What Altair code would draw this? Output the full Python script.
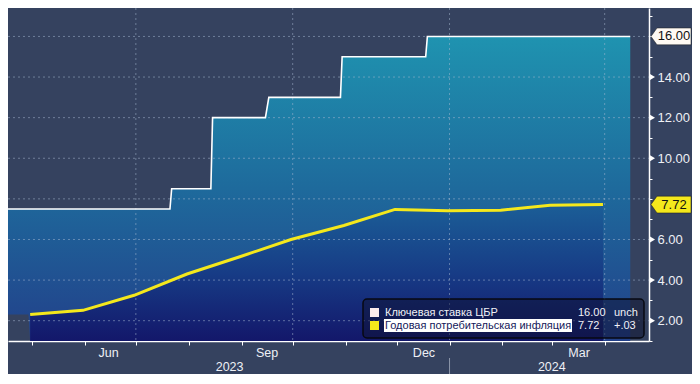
import altair as alt
import pandas as pd

# ---------------- data ----------------
rate_dates = ["2023-04-17", "2023-04-29", "2023-04-30", "2023-07-21", "2023-07-22",
              "2023-08-14", "2023-08-15", "2023-09-15", "2023-09-17", "2023-10-29",
              "2023-10-30", "2023-12-18", "2023-12-19", "2024-04-16"]
rate_values = [7.5, 7.5, 7.5, 7.5, 8.5, 8.5, 12.0, 12.0, 13.0, 13.0, 15.0, 15.0, 16.0, 16.0]

infl_dates = ["2023-04-30", "2023-05-31", "2023-06-30", "2023-07-31", "2023-08-31",
              "2023-09-30", "2023-10-31", "2023-11-30", "2023-12-31", "2024-01-31",
              "2024-02-29", "2024-03-31"]
infl_values = [2.31, 2.51, 3.25, 4.30, 5.15, 6.00, 6.69, 7.48, 7.42, 7.44, 7.69, 7.72]

month_ticks = ["2023-05-01", "2023-06-01", "2023-07-01", "2023-08-01", "2023-09-01",
               "2023-10-01", "2023-11-01", "2023-12-01", "2024-01-01", "2024-02-01",
               "2024-03-01", "2024-04-01"]
month_labels = ["Jun", "Sep", "Dec", "Mar"]
month_label_dates = ["2023-06-15", "2023-09-16", "2023-12-17", "2024-03-17"]
year_labels = ["2023", "2024"]
year_label_dates = ["2023-08-25", "2024-03-01"]
year_break = ["2024-01-01"]
quarter_lines = ["2023-07-01", "2023-10-01", "2024-01-01", "2024-04-01"]

grid_values = [2, 4, 6, 8, 10, 12, 14, 16]
tick_values = list(range(1, 18))
label_values = [2, 4, 6, 10, 12, 14]

legend_names = ["Ключевая ставка ЦБР", "Годовая потребительская инфляция"]
legend_last = ["16.00", "7.72"]
legend_change = ["unch", "+.03"]
legend_colors = ["#fcecec", "#f4e81c"]

callout_values = [16.00, 7.72]
callout_text = ["16.00", "7.72"]
callout_colors = ["#fffaf4", "#f4e81c"]

# ---------------- styling ----------------
W, H = 641, 333
BG = "#35425f"
FONT = "Liberation Sans"
Y_MIN, Y_MAX = 1.0, 17.4

x_scale = alt.Scale(domain=[alt.DateTime(year=2023, month=4, date=17),
                            alt.DateTime(year=2024, month=4, date=27)])
y_scale = alt.Scale(domain=[Y_MIN, Y_MAX], nice=False, zero=False)

def to_dt(s):
    y, m, d = (int(v) for v in s.split("-"))
    return alt.DateTime(year=y, month=m, date=d)

x_axis = alt.Axis(values=[to_dt(d) for d in month_ticks], labels=False, title=None,
                  grid=False, tickColor="#ffffff", tickSize=4, tickWidth=1,
                  domainColor="#ffffff", domainWidth=1.5)
y_axis = alt.Axis(orient="right", values=tick_values, title=None, grid=False,
                  labelExpr="indexof(%s, datum.value) >= 0 ? format(datum.value, '.2f') : ''" % str(label_values),
                  labelOverlap=False, labelFont=FONT, labelFontSize=13, labelColor="#eef0f5",
                  labelPadding=5, tickSize=3, tickColor="#ffffff", domainColor="#ffffff",
                  domainWidth=1.5, labelBaseline="middle")

def X(field):
    return alt.X(field, type="temporal", scale=x_scale, axis=x_axis)

def Y(field):
    return alt.Y(field, type="quantitative", scale=y_scale, axis=y_axis)

rate_df = pd.DataFrame({"date": pd.to_datetime(rate_dates), "rate": rate_values})
rate_df["base"] = [infl_values[0] if d < pd.Timestamp(infl_dates[0]) else Y_MIN for d in rate_df["date"]]
infl_df = pd.DataFrame({"date": pd.to_datetime(infl_dates), "v": infl_values})
infl_df["base"] = Y_MIN

rate_grad = alt.Gradient(gradient="linear", x1=0, x2=0, y1=0, y2=1,
                         stops=[alt.GradientStop(color="#1f93b0", offset=0),
                                alt.GradientStop(color="#1e6a9c", offset=0.5),
                                alt.GradientStop(color="#22408a", offset=1)])
infl_grad = alt.Gradient(gradient="linear", x1=0, x2=0, y1=0, y2=1,
                         stops=[alt.GradientStop(color="#1b5e97", offset=0),
                                alt.GradientStop(color="#173c86", offset=0.5),
                                alt.GradientStop(color="#13176a", offset=1)])

rate_area = alt.Chart(rate_df).mark_area(color=rate_grad, opacity=1).encode(
    x=X("date"), y=Y("rate"), y2="base:Q")
infl_area = alt.Chart(infl_df).mark_area(color=infl_grad, opacity=1).encode(
    x=X("date"), y=Y("v"), y2="base:Q")

hgrid = alt.Chart(pd.DataFrame({"g": grid_values})).mark_rule(
    stroke="#a9bbd4", strokeOpacity=0.5, strokeDash=[2, 3], strokeWidth=1).encode(
    y=Y("g"), x=alt.value(0), x2=alt.value(W))
vgrid = alt.Chart(pd.DataFrame({"d": pd.to_datetime(quarter_lines)})).mark_rule(
    stroke="#a9bbd4", strokeOpacity=0.5, strokeDash=[2, 3], strokeWidth=1).encode(
    x=X("d"), y=alt.value(0), y2=alt.value(H))

rate_line = alt.Chart(rate_df).mark_line(color="#ffffff", strokeWidth=1.6).encode(
    x=X("date"), y=Y("rate"))
infl_line = alt.Chart(infl_df).mark_line(color="#f4e81c", strokeWidth=3).encode(
    x=X("date"), y=Y("v"))

# ---------- legend box ----------
LX0, LX1, LY0, LY1 = 355, 636, 291, 330
one = pd.DataFrame({"k": [0]})
legend_box = alt.Chart(one).mark_rect(fill="#0d1230", fillOpacity=0.5, stroke="#070912",
                                      strokeWidth=1.5, cornerRadius=4).encode(
    x=alt.value(LX0), x2=alt.value(LX1), y=alt.value(LY0), y2=alt.value(LY1))
legend_layers = [legend_box]
row_y = [LY0 + 14, LY0 + 27]
for i in range(2):
    legend_layers.append(alt.Chart(one).mark_rect(fill=legend_colors[i]).encode(
        x=alt.value(LX0 + 7), x2=alt.value(LX0 + 16),
        y=alt.value(row_y[i] - 5), y2=alt.value(row_y[i] + 4)))
    if i == 1:
        legend_layers.append(alt.Chart(one).mark_rect(fill="#ffffff").encode(
            x=alt.value(LX0 + 21), x2=alt.value(LX0 + 209),
            y=alt.value(row_y[i] - 7), y2=alt.value(row_y[i] + 6)))
    txt_color = "#f0f1f6" if i == 0 else "#14185a"
    legend_layers.append(alt.Chart(pd.DataFrame({"t": [legend_names[i]]})).mark_text(
        align="left", baseline="middle", font=FONT, fontSize=11, color=txt_color).encode(
        text="t:N", x=alt.value(LX0 + 22), y=alt.value(row_y[i])))
    legend_layers.append(alt.Chart(pd.DataFrame({"t": [legend_last[i]]})).mark_text(
        align="left", baseline="middle", font=FONT, fontSize=11, color="#f0f1f6").encode(
        text="t:N", x=alt.value(LX0 + 215), y=alt.value(row_y[i])))
    legend_layers.append(alt.Chart(pd.DataFrame({"t": [legend_change[i]]})).mark_text(
        align="left", baseline="middle", font=FONT, fontSize=11, color="#f0f1f6").encode(
        text="t:N", x=alt.value(LX0 + 251), y=alt.value(row_y[i])))

# ---------- right axis decorations ----------
arrows = alt.Chart(pd.DataFrame({"v": label_values})).mark_point(
    shape="triangle-right", filled=True, size=34, color="#ffffff", opacity=1).encode(
    x=alt.value(W + 3.5), y=Y("v"))

callout_layers = []
CALLOUT_PATH = "M -1 0 L -0.7 -0.42 L 1 -0.42 L 1 0.42 L -0.7 0.42 Z"
for i in range(2):
    d = pd.DataFrame({"v": [callout_values[i]], "t": [callout_text[i]]})
    callout_layers.append(alt.Chart(d).mark_point(
        shape=CALLOUT_PATH, filled=True, size=1600, fill=callout_colors[i], opacity=1,
        stroke="#1a1a1a", strokeWidth=0.5).encode(x=alt.value(W + 22), y=Y("v")))
    callout_layers.append(alt.Chart(d).mark_text(
        align="center", baseline="middle", font=FONT, fontSize=13, color="#111111").encode(
        text="t:N", x=alt.value(W + 25), y=Y("v")))

# ---------- bottom axis labels ----------
months = alt.Chart(pd.DataFrame({"d": pd.to_datetime(month_label_dates), "t": month_labels})).mark_text(
    baseline="middle", font=FONT, fontSize=12.5, color="#eef0f5").encode(
    x=X("d"), y=alt.value(H + 12), text="t:N")
years = alt.Chart(pd.DataFrame({"d": pd.to_datetime(year_label_dates), "t": year_labels})).mark_text(
    baseline="middle", font=FONT, fontSize=12.5, color="#eef0f5").encode(
    x=X("d"), y=alt.value(H + 26), text="t:N")
year_sep = alt.Chart(pd.DataFrame({"d": pd.to_datetime(year_break)})).mark_rule(
    color="#8d96aa", strokeWidth=1).encode(
    x=X("d"), y=alt.value(H + 17), y2=alt.value(H + 34))

chart = alt.layer(
    rate_area, infl_area, hgrid, vgrid, rate_line, infl_line,
    *legend_layers, arrows, *callout_layers, months, years, year_sep
).properties(
    width=W, height=H,
    padding={"left": 0, "top": 0, "right": 43, "bottom": 33},
    autosize=alt.AutoSizeParams(type="none"),
    background=BG,
).configure_view(stroke=None)

chart.save("out.html", embed_options={"renderer": "svg", "actions": False})
